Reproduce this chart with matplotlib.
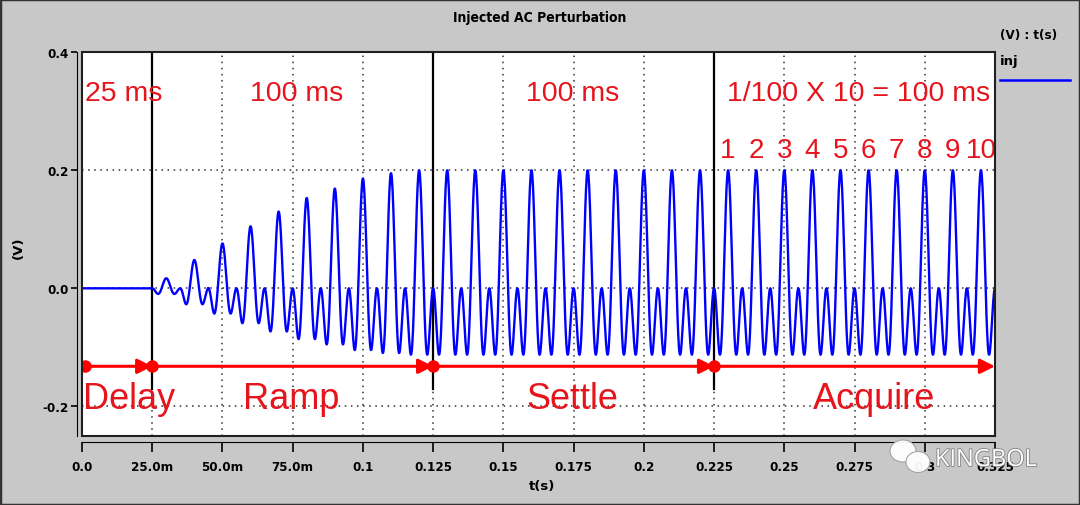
import numpy as np
import matplotlib
matplotlib.use("Agg")
import matplotlib.pyplot as plt
import matplotlib.patheffects as pe
from matplotlib.patches import Rectangle, Ellipse

# phase boundaries (s)
phase_edges = [0.0, 0.025, 0.125, 0.225, 0.325]
phase_names = ["Delay", "Ramp", "Settle", "Acquire"]
phase_name_x = [0.0005, 0.0745, 0.1745, 0.282]
duration_labels = ["25 ms", "100 ms", "100 ms", "1/100 X 10 = 100 ms"]
duration_x = [0.001, 0.0765, 0.1745, 0.2765]

# peak value of every 10 ms cycle after the delay (V)
ramp_peaks = [0.017, 0.048, 0.076, 0.105, 0.130, 0.153, 0.169, 0.186, 0.195, 0.200]
settle_peaks = [0.200] * 10
acquire_peaks = [0.200] * 10
cycle_period = 0.01
acquire_numbers = ["1", "2", "3", "4", "5", "6", "7", "8", "9", "10"]

xtick_pos = [0.0, 0.025, 0.05, 0.075, 0.1, 0.125, 0.15, 0.175, 0.2, 0.225, 0.25, 0.275, 0.3, 0.325]
xtick_lbl = ["0.0", "25.0m", "50.0m", "75.0m", "0.1", "0.125", "0.15", "0.175", "0.2",
             "0.225", "0.25", "0.275", "0.3", "0.325"]
ytick_pos = [-0.2, 0.0, 0.2, 0.4]
ytick_lbl = ["-0.2", "0.0", "0.2", "0.4"]

# build the injected waveform: fundamental + 2nd harmonic of equal size,
# each cycle scaled to its peak value
peaks = ramp_peaks + settle_peaks + acquire_peaks
t = [np.array([0.0, phase_edges[1]])]
v = [np.zeros(2)]
for k, p in enumerate(peaks):
    tc = np.linspace(0, cycle_period, 80)
    th = 2 * np.pi * tc / cycle_period
    t.append(phase_edges[1] + k * cycle_period + tc)
    v.append(p / 2 * (-np.cos(th) + np.cos(2 * th)))
t = np.concatenate(t)
v = np.concatenate(v)

W, H = 1080, 506
bg = "#c8c8c8"
red = "#e6141c"
narrow = "DejaVu Sans"

fig = plt.figure(figsize=(W / 100, H / 100), dpi=100, facecolor=bg)
ax = fig.add_axes([82 / W, 1 - 437 / H, (995 - 82) / W, (437 - 53) / H])
ax.set_facecolor("white")

ax.set_xlim(0, 0.325)
ax.set_ylim(-0.25, 0.4)

# dotted grid
for x in xtick_pos[1:-1]:
    ax.axvline(x, color="#303030", lw=1.1, ls=(0, (1, 3)), zorder=1)
for y in [-0.2, 0.0, 0.2]:
    ax.axhline(y, color="#303030", lw=1.1, ls=(0, (1, 3)), zorder=1)

# phase boundaries
for x in phase_edges[1:-1]:
    ax.plot([x, x], [-0.17, 0.4], color="black", lw=1.6, zorder=2)

ax.plot(t, v, color="#0000ff", lw=1.7, zorder=3)

# red timeline with arrows
y_arrow = -0.132
starts = [0.001] + phase_edges[1:-1]
for s, e in zip(starts, phase_edges[1:]):
    ax.annotate("", xy=(e, y_arrow), xytext=(s, y_arrow),
                arrowprops=dict(arrowstyle="-|>", color="red", lw=2.2,
                                mutation_scale=22, shrinkA=0, shrinkB=0),
                zorder=4)
ax.plot(starts, [y_arrow] * len(starts), "o", color="red", ms=8, zorder=5)

for name, x in zip(phase_names, phase_name_x):
    ha = "left" if x < 0.01 else "center"
    ax.text(x, -0.186, name, color=red, fontsize=26, ha=ha, va="center",
            family="Liberation Sans", zorder=6)
for lbl, x in zip(duration_labels, duration_x):
    ha = "left" if x < 0.01 else "center"
    ax.text(x, 0.33, lbl, color=red, fontsize=20.5, ha=ha, va="center",
            family="Liberation Sans", zorder=6)
acq_start = phase_edges[3] + cycle_period / 2
for i, n in enumerate(acquire_numbers):
    ax.text(acq_start + i * cycle_period, 0.234, n, color=red, fontsize=20,
            ha="center", va="center", family="Liberation Sans", zorder=6)

# axes styling: detached axis lines like the simulator plot
for side in ["top", "right"]:
    ax.spines[side].set_visible(False)
ax.spines["left"].set_position(("outward", 3.6))
ax.spines["bottom"].set_position(("outward", 4.3))
ax.add_patch(Rectangle((0, 0), 1, 1, transform=ax.transAxes, fill=False,
                       ec="#202020", lw=1.5, clip_on=False, zorder=7))
ax.set_xticks(xtick_pos)
ax.set_xticklabels(xtick_lbl)
ax.set_yticks(ytick_pos)
ax.set_yticklabels(ytick_lbl)
ax.tick_params(axis="x", direction="out", length=7, width=1.2, pad=6)
ax.tick_params(axis="y", direction="out", length=4, width=1.2, pad=2)
for lab in ax.get_xticklabels() + ax.get_yticklabels():
    lab.set_family(narrow)
    lab.set_fontweight("bold")
    lab.set_fontstretch("condensed")
    lab.set_fontsize(9.5)

fig.text(0.5, 1 - 18 / H, "Injected AC Perturbation", ha="center", va="center",
         fontsize=10, fontweight="bold", family=narrow, fontstretch="condensed")
fig.text(18 / W, 1 - 248 / H, "(V)", rotation=90, ha="center", va="center",
         fontsize=9.5, fontweight="bold", family=narrow)
fig.text(542 / W, 1 - 487 / H, "t(s)", ha="center", va="center",
         fontsize=9.5, fontweight="bold", family=narrow)

# legend block on the right
fig.text(1000 / W, 1 - 35 / H, "(V) : t(s)", ha="left", va="center",
         fontsize=9.5, fontweight="bold", family=narrow, fontstretch="condensed")
fig.text(1000 / W, 1 - 62 / H, "inj", ha="left", va="center",
         fontsize=9.5, fontweight="bold", family=narrow)
fig.add_artist(plt.Line2D([1000 / W, 1070 / W], [1 - 81 / H, 1 - 81 / H],
                          color="#0000ff", lw=1.8, transform=fig.transFigure))

# watermark
for cx, cy, w, h in [(903, 452, 26, 22), (918, 463, 24, 21)]:
    fig.add_artist(Ellipse((cx / W, 1 - cy / H), w / W, h / H, fc="white",
                           ec="#a0a0a0", lw=0.8, alpha=0.95,
                           transform=fig.transFigure))
fig.text(935 / W, 1 - 461 / H, "KINGBOL", ha="left", va="center", fontsize=17,
         color="white", family="Open Sans",
         path_effects=[pe.withStroke(linewidth=1.2, foreground="#808080")])

# outer frame
fig.add_artist(Rectangle((0, 0), 1, 1, transform=fig.transFigure, fill=False,
                         ec="#333333", lw=2.5))

fig.savefig("out.png", dpi=100, facecolor=bg)
